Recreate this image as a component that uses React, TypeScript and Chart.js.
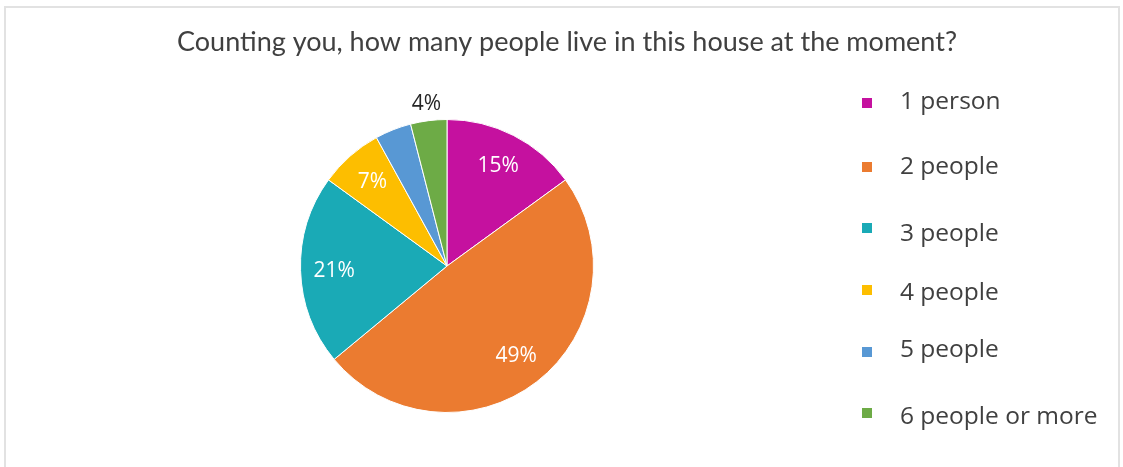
import React, { useEffect, useRef } from "react";
import { Chart, registerables } from "chart.js";

Chart.register(...registerables);

const title = "Counting you, how many people live in this house at the moment?";
const categories = ["1 person", "2 people", "3 people", "4 people", "5 people", "6 people or more"];
const shares = [15, 49, 21, 7, 4, 4];
const sliceColors = ["#C5119F", "#EB7B30", "#1AAAB6", "#FDBE00", "#5898D4", "#6DAB46"];
// which slices carry a percentage label, and whether it sits outside the pie
const showLabel = [true, true, true, true, false, true];
const labelOutside = [false, false, false, false, false, true];

const TITLE_FONT = "Lato, sans-serif";
const TEXT_FONT = "'Open Sans', sans-serif";

const decorPlugin = {
  id: "decor",
  beforeDraw(chart: any) {
    const { ctx } = chart;
    ctx.save();
    ctx.fillStyle = "#ffffff";
    ctx.fillRect(0, 0, chart.width, chart.height);
    ctx.strokeStyle = "#e2e2e2";
    ctx.lineWidth = 2;
    ctx.strokeRect(5, 7, 1114, 480);
    ctx.restore();
  },
  afterDraw(chart: any) {
    const { ctx } = chart;
    ctx.save();
    // title
    ctx.fillStyle = "#404040";
    ctx.font = `27px ${TITLE_FONT}`;
    ctx.textAlign = "center";
    ctx.textBaseline = "middle";
    ctx.fillText(title, 567, 42);

    // legend
    const legendY = [102, 167, 234, 293, 350, 417];
    const markY = [103, 167, 228, 290, 352, 413];
    ctx.textAlign = "left";
    ctx.font = `24.5px ${TEXT_FONT}`;
    categories.forEach((c, i) => {
      ctx.fillStyle = sliceColors[i];
      ctx.fillRect(862, markY[i] - 5, 10, 10);
      ctx.fillStyle = "#404040";
      ctx.fillText(c, 900, legendY[i]);
    });

    // percentage labels
    const total = shares.reduce((a, b) => a + b, 0);
    const meta = chart.getDatasetMeta(0);
    ctx.textAlign = "center";
    ctx.font = `21px ${TEXT_FONT}`;
    meta.data.forEach((arc: any, i: number) => {
      if (!showLabel[i]) return;
      const { x, y, startAngle, endAngle, outerRadius } = arc.getProps(
        ["x", "y", "startAngle", "endAngle", "outerRadius"],
        true
      );
      const mid = (startAngle + endAngle) / 2;
      const r = labelOutside[i] ? outerRadius * 1.12 : outerRadius * 0.77;
      ctx.fillStyle = labelOutside[i] ? "#262626" : "#ffffff";
      const pct = Math.round((shares[i] / total) * 100) + "%";
      ctx.fillText(pct, x + Math.cos(mid) * r, y + Math.sin(mid) * r + 1);
    });
    ctx.restore();
  },
};

export default function App() {
  const ref = useRef<HTMLCanvasElement>(null);
  useEffect(() => {
    document.body.style.margin = "0";
    const chart = new Chart(ref.current!, {
      type: "pie",
      data: {
        labels: categories,
        datasets: [
          {
            data: shares,
            backgroundColor: sliceColors,
            borderColor: "#ffffff",
            borderWidth: 1,
          },
        ],
      },
      options: {
        animation: false,
        responsive: false,
        devicePixelRatio: 1,
        layout: { padding: { left: 300, right: 529, top: 119, bottom: 54 } },
        plugins: {
          legend: { display: false },
          title: { display: false },
          tooltip: { enabled: false },
        },
      },
      plugins: [decorPlugin],
    });
    return () => chart.destroy();
  }, []);
  return (
    <div style={{ position: "absolute", left: 0, top: 0, width: 1123, height: 467, background: "#fff" }}>
      <canvas ref={ref} width={1123} height={467} />
    </div>
  );
}
